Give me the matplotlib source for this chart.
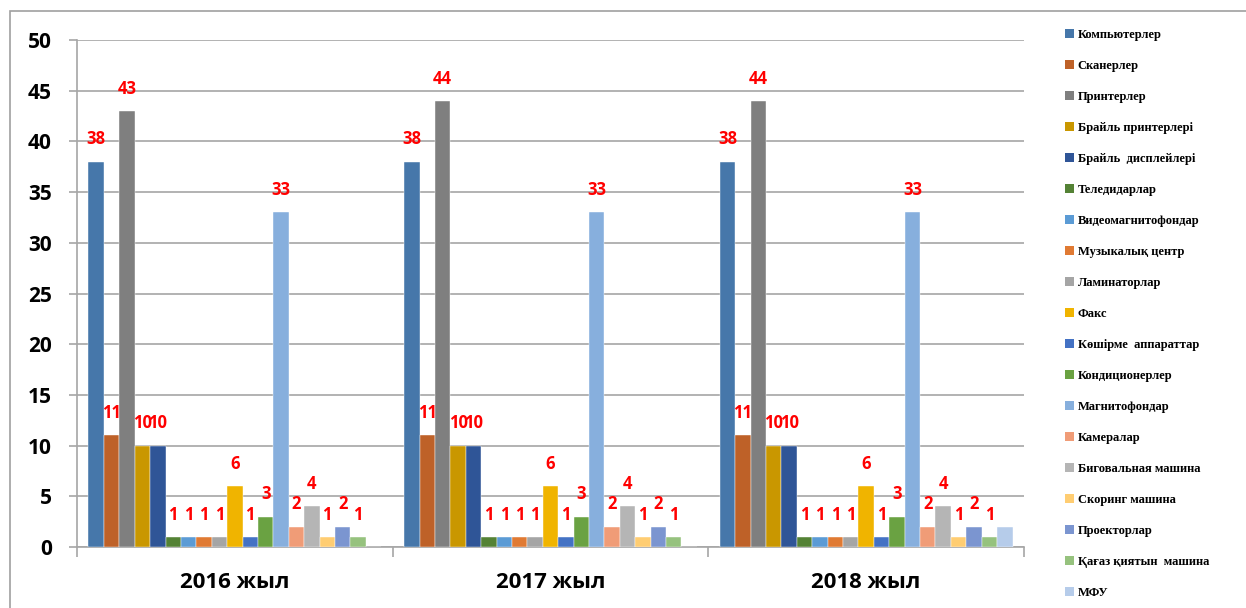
import matplotlib.pyplot as plt
import numpy as np
from matplotlib.patches import Patch, Rectangle

# --- Données ---
groupes = ["2016 жыл", "2017 жыл", "2018 жыл"]
series = [
    "Компьютерлер", "Сканерлер", "Принтерлер", "Брайль принтерлері",
    "Брайль  дисплейлері", "Теледидарлар", "Видеомагнитофондар",
    "Музыкалық центр", "Ламинаторлар", "Факс", "Көшірме  аппараттар",
    "Кондиционерлер", "Магнитофондар", "Камералар", "Биговальная машина",
    "Скоринг машина", "Проекторлар", "Қағаз қиятын  машина", "МФУ",
]
v2016 = [38, 11, 43, 10, 10, 1, 1, 1, 1, 6, 1, 3, 33, 2, 4, 1, 2, 1, 0]
v2017 = [38, 11, 44, 10, 10, 1, 1, 1, 1, 6, 1, 3, 33, 2, 4, 1, 2, 1, 0]
v2018 = [38, 11, 44, 10, 10, 1, 1, 1, 1, 6, 1, 3, 33, 2, 4, 1, 2, 1, 2]
couleurs = [
    "#4677AA", "#BE6128", "#7F7F7F", "#C99700", "#2F5597", "#548235",
    "#5B9BD5", "#E07A33", "#A5A5A5", "#F0B400", "#4472C4", "#6AA242",
    "#87AFDD", "#F09C77", "#B5B5B5", "#FFCD72", "#7B95D0", "#96C27E",
    "#B6CCEA",
]
# pas d'étiquette pour MФУ
etiquette = [True] * 18 + [False]

valeurs = np.array([v2016, v2017, v2018])  # (groupe, série)

# --- Figure ---
fig = plt.figure(figsize=(12.46, 6.08), dpi=100)
ax = fig.add_axes([77 / 1246, 1 - 547 / 608, (1024 - 77) / 1246, (547 - 40) / 608])

x = np.arange(len(groupes))
n = len(series)
w = 0.0488
start = -n * w / 2

for i in range(n):
    pos = x + start + (i + 0.5) * w
    ax.bar(pos, valeurs[:, i], width=w, color=couleurs[i], edgecolor="white",
           linewidth=0.3, zorder=3)
    if etiquette[i]:
        for xp, v in zip(pos, valeurs[:, i]):
            ax.annotate(str(v), (xp, v), xytext=(0, 16), textcoords="offset points",
                        ha="center", va="center", color="#FF0000",
                        fontsize=12, fontweight="bold", family="Open Sans", zorder=4)

# Axes
ax.set_ylim(0, 50)
ax.set_xlim(-0.5, 2.5)
ax.set_yticks(range(0, 51, 5))
ax.yaxis.grid(True, color="#A6A6A6", linewidth=1.2, zorder=0)
ax.set_axisbelow(True)
for s in ["top", "right"]:
    ax.spines[s].set_visible(False)
ax.spines["left"].set_color("#A6A6A6")
ax.spines["bottom"].set_color("#A6A6A6")
ax.spines["left"].set_linewidth(1.2)
ax.spines["bottom"].set_linewidth(1.2)

ax.tick_params(axis="y", length=6, color="#A6A6A6", width=1.2, pad=12)
for t in ax.get_yticklabels():
    t.set_fontsize(15)
    t.set_fontweight("bold")
    t.set_family("Open Sans")

ax.set_xticks(x)
ax.set_xticklabels(groupes, fontsize=16, fontweight="bold", family="Open Sans")
ax.set_xticks([-0.5, 0.5, 1.5, 2.5], minor=True)
ax.tick_params(axis="x", which="major", length=0, pad=18)
ax.tick_params(axis="x", which="minor", length=7, color="#A6A6A6", width=1.2)

# --- Légende ---
handles = [Patch(facecolor=c, label=s) for c, s in zip(couleurs, series)]
fig.legend(handles=handles, loc="upper left", bbox_to_anchor=(1060 / 1246, 1 - 24 / 608),
           frameon=False, prop={"family": "Liberation Serif", "weight": "bold", "size": 9},
           handlelength=0.7, handleheight=0.7, handletextpad=0.3,
           labelspacing=1.52, borderaxespad=0)

# Cadre
fig.patches.append(Rectangle((10 / 1246, -0.1), 1.2, 1 - 11 / 608 + 0.1,
                             transform=fig.transFigure, fill=False,
                             edgecolor="#A0A0A0", linewidth=1.2))

fig.savefig("out.png", dpi=100)
